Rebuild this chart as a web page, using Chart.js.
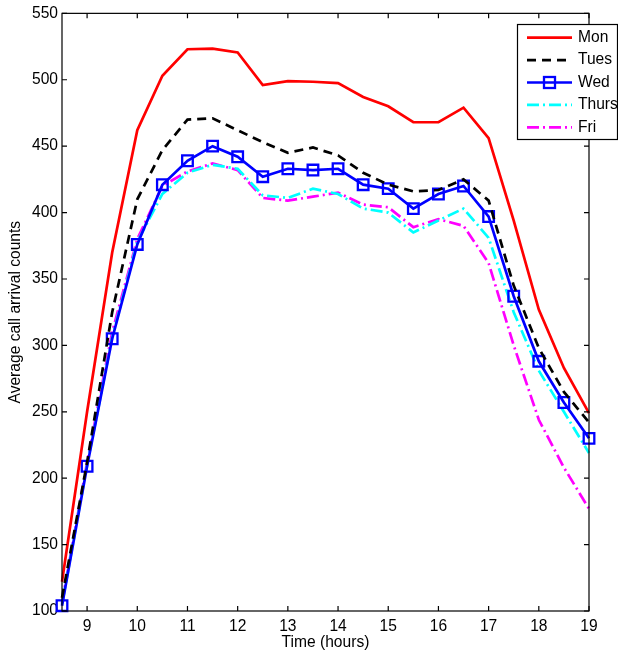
<!DOCTYPE html>
<html><head><meta charset="utf-8">
<script src="https://cdn.jsdelivr.net/npm/chart.js@4.4.1/dist/chart.umd.min.js"></script>
<style>html,body{margin:0;padding:0;background:#fff}canvas{display:block}</style>
</head><body>
<canvas id="c" width="618" height="654"></canvas>
<script>
// ─── DATA ────────────────────────────────────────────────────
const hours=[8.5,9,9.5,10,10.5,11,11.5,12,12.5,13,13.5,14,14.5,15,15.5,16,16.5,17,17.5,18,18.5,19];
const mon  =[122,250,370,462,503,523,523.5,520.5,496,499,498.5,497.5,487,480,468,468,479,456,394,327,283,249];
const tues =[110,212,325,410,447,470,471,462,453,445,449,443,430,421,416,417,425,409,345,298,265,242];
const wed  =[104,209,305,376,421,439,450,442,427,433,432,433,421,418,403,414,420,397,337,288,257,230];
const thurs=[105,210,306,378,414,430,436,433,413,411,418,414,403,400,385,394,403,381,325,281,250,219];
const fri  =[106,212,310,380,420,431,437,432,411,409,412,415,406,404,389,395,390,362,300,244,208,177];
const xTicks=[9,10,11,12,13,14,15,16,17,18,19];
const yTicks=[100,150,200,250,300,350,400,450,500,550];
const FONT='"Liberation Sans", Arial, sans-serif',FS=15.6;

const pts=arr=>arr.map((v,i)=>({x:hours[i],y:v}));
function ds(label,data,color,dash,extra={}){
  return{label,data:pts(data),borderColor:color,backgroundColor:color,borderWidth:2.7,borderDash:dash,
    pointRadius:0,tension:0,clip:false,...extra};
}
const series=[
  ds('Mon',mon,'#ff0000',[]),
  ds('Tues',tues,'#000000',[9,6]),
  ds('Wed',wed,'#0000ff',[],{pointRadius:7.5,pointStyle:'rect',pointBorderWidth:2.3,pointBackgroundColor:'rgba(0,0,0,0)',pointBorderColor:'#0000ff'}),
  ds('Thurs',thurs,'#00ffff',[12,4,2,4]),
  ds('Fri',fri,'#ff00ff',[12,4,2,4])
];

// ─── PLUGINS ─────────────────────────────────────────────────
// matlabBox — full frame with inward ticks on all four sides
const matlabBox={id:'matlabBox',
  afterDraw(chart){
    const{ctx,chartArea:a,scales:{x,y}}=chart,tl=5;
    ctx.save();ctx.strokeStyle='#000';ctx.lineWidth=1.2;
    ctx.strokeRect(a.left,a.top,a.right-a.left,a.bottom-a.top);
    ctx.beginPath();
    xTicks.forEach(v=>{const px=x.getPixelForValue(v);ctx.moveTo(px,a.bottom);ctx.lineTo(px,a.bottom-tl);ctx.moveTo(px,a.top);ctx.lineTo(px,a.top+tl)});
    yTicks.forEach(v=>{const py=y.getPixelForValue(v);ctx.moveTo(a.left,py);ctx.lineTo(a.left+tl,py);ctx.moveTo(a.right,py);ctx.lineTo(a.right-tl,py)});
    ctx.stroke();ctx.restore();
  }
};
// boxLegend — framed legend in upper right, overlapping the frame
const boxLegend={id:'boxLegend',
  afterDraw(chart){
    const ctx=chart.ctx,bx=517,by=24,bw=100,bh=115,rowH=22.4,y0=37.7;
    ctx.save();ctx.fillStyle='#fff';ctx.fillRect(bx,by,bw,bh);
    ctx.strokeStyle='#000';ctx.lineWidth=1.2;ctx.strokeRect(bx+.5,by+.5,bw,bh);
    ctx.font=FS+'px '+FONT;ctx.textBaseline='middle';ctx.textAlign='left';
    chart.data.datasets.forEach((d,i)=>{
      const yy=y0+i*rowH;
      ctx.beginPath();ctx.setLineDash(d.borderDash||[]);ctx.strokeStyle=d.borderColor;ctx.lineWidth=d.borderWidth;
      ctx.moveTo(527,yy);ctx.lineTo(572,yy);ctx.stroke();ctx.setLineDash([]);
      if(d.pointRadius){ctx.lineWidth=2.3;ctx.strokeRect(549.5-5.5,yy-5.5,11,11)}
      ctx.fillStyle='#000';ctx.fillText(d.label,578,yy);
    });
    ctx.restore();
  }
};

// ─── CHART ───────────────────────────────────────────────────
new Chart(document.getElementById('c'),{
  type:'line',
  data:{datasets:series},
  options:{responsive:false,animation:false,
    layout:{padding:{top:13,right:29,left:0,bottom:0}},
    plugins:{legend:{display:false},tooltip:{enabled:false}},
    scales:{
      x:{type:'linear',min:8.5,max:19,
        afterBuildTicks:s=>{s.ticks=xTicks.map(v=>({value:v}))},
        afterFit:s=>{s.height=43},
        grid:{display:false,drawTicks:false},border:{display:false},
        ticks:{padding:6,color:'#000',font:{family:FONT,size:FS}},
        title:{display:true,text:'Time (hours)',color:'#000',font:{family:FONT,size:FS},padding:{top:0,bottom:2}}},
      y:{type:'linear',min:100,max:550,
        afterBuildTicks:s=>{s.ticks=yTicks.map(v=>({value:v}))},
        afterFit:s=>{s.width=62},
        grid:{display:false,drawTicks:false},border:{display:false},
        ticks:{padding:4,color:'#000',font:{family:FONT,size:FS}},
        title:{display:true,text:'Average call arrival counts',color:'#000',font:{family:FONT,size:FS},padding:{top:6,bottom:0}}}
    }
  },
  plugins:[matlabBox,boxLegend]
});
</script>
</body></html>
